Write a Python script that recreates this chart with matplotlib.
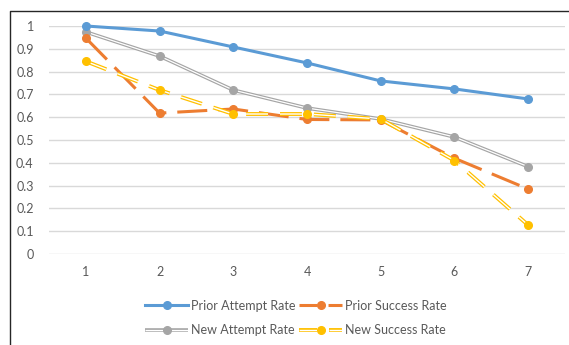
import matplotlib
matplotlib.use("Agg")
import matplotlib.pyplot as plt
from matplotlib.lines import Line2D

plt.rcParams['font.family'] = ['Lato', 'DejaVu Sans']
plt.rcParams['lines.scale_dashes'] = False

steps = [1, 2, 3, 4, 5, 6, 7]
prior_attempt = [1.0, 0.978, 0.908, 0.838, 0.759, 0.724, 0.68]
prior_success = [0.947, 0.618, 0.636, 0.59, 0.588, 0.42, 0.285]
new_attempt = [0.974, 0.868, 0.719, 0.64, 0.592, 0.513, 0.383]
new_success = [0.845, 0.719, 0.614, 0.614, 0.592, 0.41, 0.127]
yticks = [0, 0.1, 0.2, 0.3, 0.4, 0.5, 0.6, 0.7, 0.8, 0.9, 1]
ytick_labels = ['0', '0.1', '0.2', '0.3', '0.4', '0.5', '0.6', '0.7', '0.8', '0.9', '1']

blue = '#5B9BD5'
orange = '#ED7D31'
grey = '#A5A5A5'
yellow = '#FFC000'

W, H = 569, 345
fig = plt.figure(figsize=(W / 100, H / 100), dpi=100)
ax = fig.add_axes([49 / W, (H - 254) / H, (565 - 49) / W, (254 - 26) / H])
ax.set_xlim(0.5, 7.5)
ax.set_ylim(0, 1)

lw = 2.2
ms = 5.5

# Prior attempt (solid blue)
ax.plot(steps, prior_attempt, color=blue, lw=lw, marker='o', ms=ms, clip_on=False, zorder=5)
# New attempt (grey double line)
ax.plot(steps, new_attempt, color=grey, lw=2.6, clip_on=False, zorder=3, solid_capstyle='butt')
ax.plot(steps, new_attempt, color='white', lw=0.9, clip_on=False, zorder=3.1, solid_capstyle='butt')
ax.plot(steps, new_attempt, ls='none', color=grey, marker='o', ms=ms, clip_on=False, zorder=3.2)
# Prior success (orange long dash)
od = (0, (21.6, 7.9))
ax.plot(steps, prior_success, color=orange, lw=lw, ls=od, clip_on=False, zorder=4, dash_capstyle='butt')
ax.plot(steps, prior_success, ls='none', color=orange, marker='o', ms=ms, clip_on=False, zorder=4.2)
# New success (yellow dashed double line)
yd = (0, (15.8, 8.6))
ax.plot(steps, new_success, color=yellow, lw=2.8, ls=yd, clip_on=False, zorder=4.5, dash_capstyle='butt')
ax.plot(steps, new_success, color='white', lw=1.0, ls=yd, clip_on=False, zorder=4.6, dash_capstyle='butt')
ax.plot(steps, new_success, ls='none', color=yellow, marker='o', ms=ms, clip_on=False, zorder=4.7)

ax.set_yticks(yticks)
ax.set_yticklabels(ytick_labels)
ax.set_xticks(steps)
ax.set_xticklabels([str(s) for s in steps])
ax.grid(axis='y', color='#D9D9D9', lw=1)
ax.set_axisbelow(True)
for s in ax.spines.values():
    s.set_visible(False)
ax.tick_params(axis='both', length=0, labelsize=9, labelcolor='#595959')
ax.tick_params(axis='y', pad=11)
ax.tick_params(axis='x', pad=9)

# legend handles
h_pa = Line2D([], [], color=blue, lw=lw, marker='o', ms=ms)
h_na = (Line2D([], [], color=grey, lw=2.6, solid_capstyle='butt'),
        Line2D([], [], color='white', lw=0.9, solid_capstyle='butt'),
        Line2D([], [], ls='none', color=grey, marker='o', ms=ms))
h_ps = Line2D([], [], color=orange, lw=lw, ls=(0, (13, 7.9)), marker='o', ms=ms, dash_capstyle='butt')
h_ns = (Line2D([], [], color=yellow, lw=2.8, ls=(0, (13, 8.6)), dash_capstyle='butt'),
        Line2D([], [], color='white', lw=1.0, ls=(0, (13, 8.6)), dash_capstyle='butt'),
        Line2D([], [], ls='none', color=yellow, marker='o', ms=ms))
leg = fig.legend([h_pa, h_na, h_ps, h_ns],
                 ['Prior Attempt Rate', 'New Attempt Rate', 'Prior Success Rate', 'New Success Rate'],
                 ncol=2, loc='center', bbox_to_anchor=(296 / W, (H - 318) / H),
                 frameon=False, fontsize=9, handlelength=3.4, handletextpad=0.25,
                 columnspacing=0.3, labelspacing=1.0, borderpad=0, borderaxespad=0)
for t in leg.get_texts():
    t.set_color('#595959')

# chart border (left and top visible)
fig.add_artist(Line2D([9.5 / W, 9.5 / W, 1.0], [0, 1 - 10.5 / H, 1 - 10.5 / H],
                      transform=fig.transFigure, color='#262626', lw=1.0))

fig.savefig('out.png', dpi=100)
